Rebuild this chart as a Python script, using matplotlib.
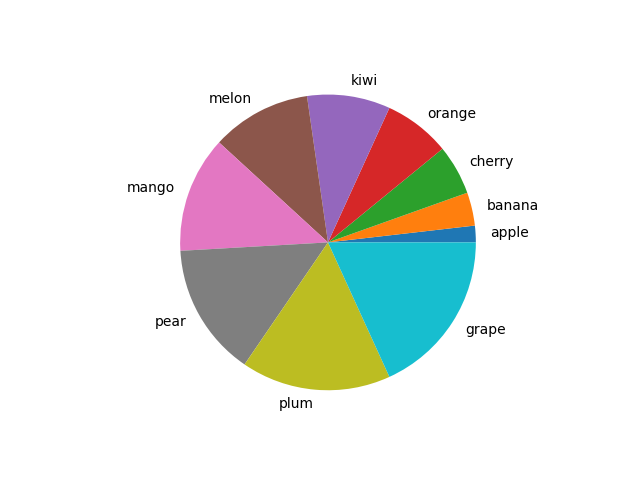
import matplotlib
matplotlib.use('Agg')
import matplotlib.pyplot as plt

labels = ['apple', 'banana', 'cherry', 'orange', 'kiwi', 'melon', 'mango', 'pear', 'plum', 'grape']
sizes = [1, 2, 3, 4, 5, 6, 7, 8, 9, 10]

fig, ax = plt.subplots(figsize=(6.4, 4.8), dpi=100)
ax.pie(sizes, labels=labels)
fig.savefig('out.png')
